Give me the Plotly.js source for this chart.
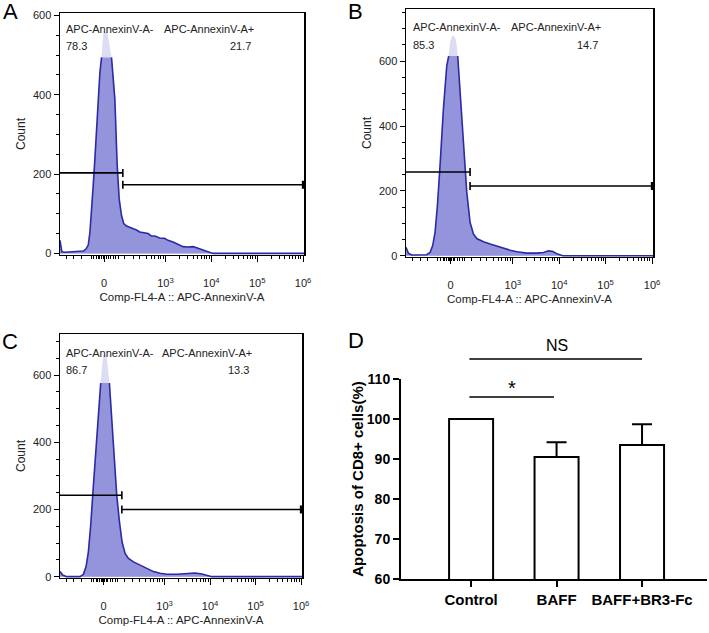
<!DOCTYPE html>
<html>
<head>
<meta charset="utf-8">
<script src="https://cdn.plot.ly/plotly-3.0.1.min.js"></script>
<style>
  body { margin: 0; background: #fff; }
  #fig { width: 709px; height: 633px; }
</style>
</head>
<body>
<div id="fig"></div>
<script>
// histogram data (x in display units: 0 -> 1.66, 10^3 -> 3 ... 10^6 -> 6)
var histA_x = [0.70,0.74,0.81,1.21,1.265,1.316,1.353,1.389,1.425,1.461,1.512,1.57,1.606,1.63,1.66,1.72,1.76,1.80,1.823,1.86,1.896,1.947,1.99,2.04,2.09,2.15,2.295,2.367,2.439,2.51,2.62,2.69,2.77,2.874,2.98,3.055,3.164,3.27,3.38,3.49,3.60,3.71,3.82,3.925,4.034,6.02];
var histA_y = [33,4,3,6,11,21,54,105,172,239,347,456,494,535,556,558,540,510,494,448,389,222,138,96,75,69,63,59,54,52,50,44,44,39,38,33,29,23,17,16,17,13,8,4,0,0];

var histB_x = [0.70,0.75,0.822,1.146,1.218,1.275,1.326,1.376,1.433,1.505,1.577,1.62,1.663,1.721,1.771,1.814,1.865,1.937,2.009,2.08,2.152,2.224,2.368,2.512,2.656,2.80,2.943,3.087,3.303,3.518,3.662,3.77,3.864,3.964,4.079,6.02];
var histB_y = [26,8,2,3,10,31,72,154,277,451,585,616,667,679,667,616,503,349,195,103,67,53,43,36,29,23,17,12,8,8,10,15,13,5,0,0];

var histC_x = [0.70,0.759,0.847,1.14,1.214,1.273,1.324,1.375,1.434,1.493,1.551,1.595,1.632,1.669,1.713,1.757,1.786,1.838,1.889,1.948,2.007,2.065,2.131,2.205,2.315,2.462,2.608,2.755,2.902,3.049,3.269,3.489,3.673,3.82,3.93,4.04,6.02];
var histC_y = [15,5,0,0,7,30,74,153,271,389,507,576,635,660,657,616,576,468,350,241,163,103,69,54,44,34,25,15,10,7,7,9,11,8,3,0,0];

// count above which the peak is drawn pale
var peakClip = [494, 616, 576];

// gates: split position and bar heights
var gateSplit = [2.07, 2.08, 2.06];
var gateNegLevel = [203, 258, 242];
var gatePosLevel = [173, 215, 200];
var pctNeg = ["78.3", "85.3", "86.7"];
var pctPos = ["21.7", "14.7", "13.3"];

// x tick labels
var xTickVals = [1.66, 3, 4, 5, 6];
var xTickText = ["0", "10<sup>3</sup>", "10<sup>4</sup>", "10<sup>5</sup>", "10<sup>6</sup>"];

// panel D
var groups = ["Control", "BAFF", "BAFF+BR3-Fc"];
var apoptosis = [100, 90.5, 93.5];
var apoptosisErr = [0, 3.7, 5.2];

var W = 709, H = 633;
function px(x) { return x / W; }
function py(y) { return 1 - y / H; }

// minor ticks on the biexponential axis
var minorX = [0.845,1.005,1.171,1.389,1.44,1.497,1.534,1.57,1.606,1.642,1.678,1.715,1.751,1.802,1.86,1.918,1.968,2.113,2.295,2.439,2.584,2.693,2.766,2.838,2.896,2.947];
for (var k = 3; k < 6; k++) {
  for (var m = 2; m < 10; m++) minorX.push(k + Math.log10(m));
}

var fillDark = "#9494dc", fillLight = "#dcdcf2", edge = "#2b2ba3";

function histTraces(xs, ys, clip, n) {
  var xa = n === 1 ? "x" : "x" + n, ya = n === 1 ? "y" : "y" + n;
  return [
    {x: xs, y: ys, xaxis: xa, yaxis: ya, type: "scatter", mode: "lines",
     fill: "tozeroy", fillcolor: fillLight, line: {width: 0, shape: "spline", smoothing: 0.6}, hoverinfo: "skip"},
    {x: xs, y: ys.map(function (v) { return Math.min(v, clip); }), xaxis: xa, yaxis: ya,
     type: "scatter", mode: "lines", fill: "tozeroy", fillcolor: fillDark, line: {width: 0}},
    {x: xs, y: ys.map(function (v) { return v > clip ? null : v; }), xaxis: xa, yaxis: ya,
     type: "scatter", mode: "lines", line: {color: edge, width: 1.6}, connectgaps: false}
  ];
}

var data = []
  .concat(histTraces(histA_x, histA_y, peakClip[0], 1))
  .concat(histTraces(histB_x, histB_y, peakClip[1], 2))
  .concat(histTraces(histC_x, histC_y, peakClip[2], 3));

data.push({
  x: groups, y: apoptosis, xaxis: "x4", yaxis: "y4", type: "bar", width: 0.515,
  marker: {color: "#fff", line: {color: "#000", width: 2}},
  error_y: {type: "data", symmetric: false, array: apoptosisErr,
            arrayminus: apoptosisErr.map(function () { return 0; }),
            color: "#000", thickness: 2, width: 10}
});

var txt = {family: "Liberation Sans, Arial, sans-serif", color: "#222"};
function histX(dom, anchor) {
  return {
    domain: dom, anchor: anchor, range: [0.7, 6.02], showgrid: false, zeroline: false,
    showline: true, linecolor: "#000", linewidth: 1, mirror: true,
    tickvals: xTickVals, ticktext: xTickText, ticks: "outside", ticklen: 6, tickcolor: "#000",
    ticklabelstandoff: 12,
    tickfont: {family: txt.family, color: txt.color, size: 11},
    minor: {tickvals: minorX, ticks: "outside", ticklen: 3, tickcolor: "#000"},
    title: {text: "Comp-FL4-A :: APC-AnnexinV-A", font: {family: txt.family, color: txt.color, size: 11.5}, standoff: 4}
  };
}
function histY(dom, anchor, top) {
  return {
    domain: dom, anchor: anchor, range: [-4, top], showgrid: false, zeroline: false,
    showline: true, linecolor: "#000", linewidth: 1.5, mirror: true,
    tick0: 0, dtick: 200, ticks: "outside", ticklen: 5, tickcolor: "#000",
    tickfont: {family: txt.family, color: txt.color, size: 11},
    minor: {dtick: 50, ticks: "outside", ticklen: 3, tickcolor: "#000"},
    title: {text: "Count", font: {family: txt.family, color: txt.color, size: 12}, standoff: 4}
  };
}

var layout = {
  width: W, height: H, margin: {l: 0, r: 0, t: 0, b: 0},
  paper_bgcolor: "#fff", plot_bgcolor: "rgba(0,0,0,0)", showlegend: false,
  xaxis: histX([px(60), px(304)], "y"),
  yaxis: histY([py(255), py(13)], "x", 606),
  xaxis2: histX([px(406), px(653)], "y2"),
  yaxis2: histY([py(257), py(9)], "x2", 761),
  xaxis3: histX([px(60), px(302)], "y3"),
  yaxis3: histY([py(578), py(334)], "x3", 722),
  xaxis4: {
    domain: [px(401), px(707)], anchor: "y4", range: [-0.82, 2.76], showgrid: false, zeroline: false,
    showline: true, linecolor: "#000", linewidth: 2, ticks: "outside", ticklen: 6, tickwidth: 2, tickcolor: "#000",
    tickfont: {family: txt.family, color: "#000", size: 15, weight: "bold"}
  },
  yaxis4: {
    domain: [py(579), py(379)], anchor: "x4", range: [60, 110], dtick: 10, showgrid: false, zeroline: false,
    showline: true, linecolor: "#000", linewidth: 2, ticks: "outside", ticklen: 6, tickwidth: 2, tickcolor: "#000",
    tickfont: {family: txt.family, color: "#000", size: 14, weight: "bold"},
    title: {text: "Apoptosis of CD8+ cells(%)", font: {family: txt.family, color: "#000", size: 15, weight: "bold"}, standoff: 0}
  },
  shapes: [],
  annotations: []
};

// gate bars
var gateLine = {color: "#000", width: 1.6};
[1, 2, 3].forEach(function (n, i) {
  var xa = n === 1 ? "x" : "x" + n, ya = n === 1 ? "y" : "y" + n;
  layout.shapes.push(
    {type: "line", xref: xa, yref: ya, x0: 0.7, x1: gateSplit[i], y0: gateNegLevel[i], y1: gateNegLevel[i], line: gateLine},
    {type: "line", xref: xa, yref: ya, x0: gateSplit[i], x1: gateSplit[i], ysizemode: "pixel", yanchor: gateNegLevel[i], y0: -4, y1: 4, line: gateLine},
    {type: "line", xref: xa, yref: ya, x0: gateSplit[i], x1: 6.0, y0: gatePosLevel[i], y1: gatePosLevel[i], line: gateLine},
    {type: "line", xref: xa, yref: ya, x0: gateSplit[i], x1: gateSplit[i], ysizemode: "pixel", yanchor: gatePosLevel[i], y0: -4, y1: 4, line: gateLine},
    {type: "line", xref: xa, yref: ya, x0: 6.0, x1: 6.0, ysizemode: "pixel", yanchor: gatePosLevel[i], y0: -4, y1: 4, line: {color: "#000", width: 2.5}}
  );
});

// significance bars in D
layout.shapes.push(
  {type: "line", xref: "x4", yref: "y4", x0: -0.02, x1: 0.97, y0: 105.5, y1: 105.5, line: {color: "#000", width: 1.6}},
  {type: "line", xref: "x4", yref: "paper", x0: -0.02, x1: 2.0, y0: py(359), y1: py(359), line: {color: "#000", width: 1.6}}
);

function note(text, x, y, anchor, size, font) {
  layout.annotations.push({
    text: text, xref: "paper", yref: "paper", x: px(x), y: py(y), xanchor: anchor, yanchor: "middle",
    showarrow: false, font: Object.assign({family: txt.family, color: txt.color, size: size}, font || {})
  });
}

// gate labels
var gateTextPos = [
  {l: 64, r: 253, mid: 162, y1: 29, y2: 46},
  {l: 411, r: 600, mid: 509, y1: 27, y2: 45},
  {l: 64, r: 251, mid: 160, y1: 353, y2: 370}
];
gateTextPos.forEach(function (p, i) {
  note("APC-AnnexinV-A-", p.l, p.y1, "left", 11);
  note(pctNeg[i], p.l, p.y2, "left", 11);
  note("APC-AnnexinV-A+", p.mid, p.y1, "left", 11);
  note(pctPos[i], p.r, p.y2, "right", 11);
});

// panel letters
note("A", 10, 12, "center", 22, {color: "#000"});
note("B", 355, 12, "center", 22, {color: "#000"});
note("C", 10, 341, "center", 22, {color: "#000"});
note("D", 356, 340, "center", 22, {color: "#000"});

// significance labels
layout.annotations.push(
  {text: "*", xref: "x4", yref: "y4", x: 0.48, y: 107.8, showarrow: false,
   font: {family: txt.family, color: "#000", size: 20}},
  {text: "NS", xref: "x4", yref: "paper", x: 1.0, y: py(345), showarrow: false,
   font: {family: txt.family, color: "#000", size: 16}}
);

Plotly.newPlot("fig", data, layout, {staticPlot: true});
</script>
</body>
</html>
